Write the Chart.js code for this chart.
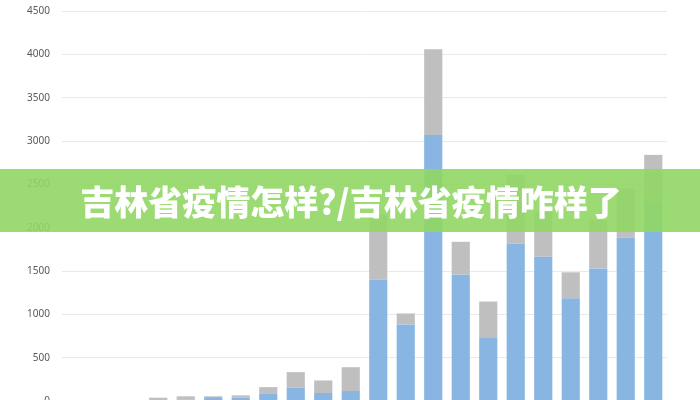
<!DOCTYPE html>
<html>
<head>
<meta charset="utf-8">
<script src="https://cdn.jsdelivr.net/npm/chart.js@4/dist/chart.umd.min.js"></script>
<style>
  html, body { margin: 0; padding: 0; background: #fff; }
  #wrap { position: relative; width: 700px; height: 400px; overflow: hidden; }
  #chart { position: absolute; left: 0; top: -7px; }
  #banner {
    position: absolute; left: 0; top: 169px; width: 700px; height: 63px;
    background: rgba(145, 215, 100, 0.9);
    color: #fff; font-family: "Noto Sans CJK SC", sans-serif; font-weight: 900;
    font-size: 34px; line-height: 63px; text-align: center;
    padding-left: 2px; box-sizing: border-box;
  }
</style>
</head>
<body>
<div id="wrap">
  <canvas id="chart" width="700" height="426"></canvas>
  <div id="banner">吉林省疫情怎样?/吉林省疫情咋样了</div>
</div>
<script>
// categories (x axis is cut off in the picture)
const labels = ['3/1','3/2','3/3','3/4','3/5','3/6','3/7','3/8','3/9','3/10','3/11',
  '3/12','3/13','3/14','3/15','3/16','3/17','3/18','3/19','3/20','3/21','3/22'];

// lower (blue) part and upper (gray) part of each stacked bar
const blueValues = [0, 0, 0, 10, 15, 45, 40, 88, 153, 92, 115,
  1400, 884, 3070, 1458, 735, 1817, 1665, 1186, 1530, 1886, 2310];
const grayValues = [2, 3, 3, 28, 39, 9, 25, 72, 180, 145, 275,
  750, 126, 990, 379, 413, 793, 515, 299, 560, 564, 530];

const yTicks = [0, 500, 1000, 1500, 2000, 2500, 3000, 3500, 4000, 4500];

const ctx = document.getElementById('chart').getContext('2d');

new Chart(ctx, {
  type: 'bar',
  data: {
    labels: labels,
    datasets: [
      {
        label: 'blue',
        data: blueValues,
        backgroundColor: '#88b5e1',
        categoryPercentage: 1,
        barPercentage: 0.66
      },
      {
        label: 'gray',
        data: grayValues,
        backgroundColor: '#bfbfbf',
        categoryPercentage: 1,
        barPercentage: 0.66
      }
    ]
  },
  options: {
    responsive: false,
    animation: false,
    layout: { padding: { top: 0, right: 33, bottom: 0, left: 0 } },
    scales: {
      x: {
        stacked: true,
        display: false
      },
      y: {
        stacked: true,
        min: 0,
        max: 4500,
        afterBuildTicks: scale => {
          scale.ticks = yTicks.map(v => ({ value: v }));
        },
        afterFit: scale => { scale.width = 62; },
        border: { display: false },
        grid: { color: '#e9e9e9', drawTicks: false },
        ticks: {
          padding: 12,
          color: '#595959',
          font: { family: 'Noto Sans', size: 10 },
          callback: v => String(v)
        }
      }
    },
    plugins: {
      legend: { display: false },
      tooltip: { enabled: false }
    }
  }
});
</script>
</body>
</html>
